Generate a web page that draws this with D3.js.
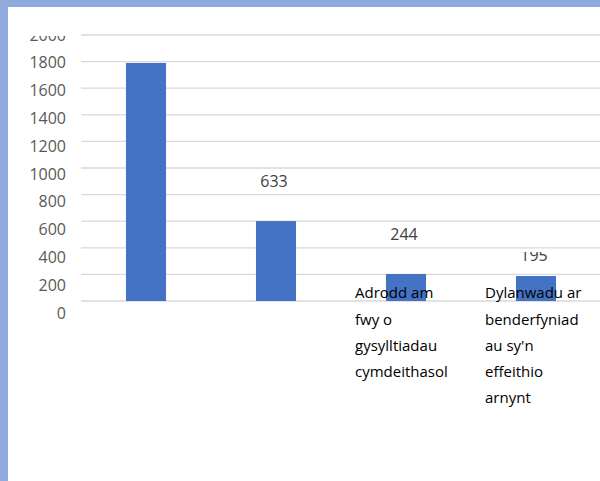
<!DOCTYPE html>
<html>
<head>
<meta charset="utf-8">
<script src="https://cdn.jsdelivr.net/npm/d3@7"></script>
<style>
  html, body { margin: 0; padding: 0; background: #fff; }
  svg { display: block; }
</style>
</head>
<body>
<div id="chart"></div>
<script>
// bar heights as drawn, and the numbers printed above them
const categories = ['c1', 'c2', 'c3', 'c4'];
const barValues = [1790, 601, 203, 188];
const labelValues = [1790, 633, 244, 195];
const categoryLines = [
  [],
  [],
  ['Adrodd am', 'fwy o', 'gysylltiadau', 'cymdeithasol'],
  ['Dylanwadu ar', 'benderfyniad', "au sy'n", 'effeithio', 'arnynt']
];
const yTicks = [0, 200, 400, 600, 800, 1000, 1200, 1400, 1600, 1800, 2000];

const width = 600, height = 481;
const svg = d3.select('#chart').append('svg')
  .attr('width', width)
  .attr('height', height);

// frame
svg.append('rect').attr('x', 0).attr('y', 0).attr('width', width).attr('height', 7).attr('fill', '#8FAADC');
svg.append('rect').attr('x', 0).attr('y', 0).attr('width', 8).attr('height', height).attr('fill', '#8FAADC');

const defs = svg.append('defs');
defs.append('clipPath').attr('id', 'plotClip')
  .append('rect').attr('x', -200).attr('y', 36).attr('width', 1000).attr('height', height);

const y = d3.scaleLinear().domain([0, 2000]).range([301, 35]);
const yLab = d3.scaleLinear().domain([0, 2000]).range([313, 35]);
const x = d3.scaleBand().domain(categories).range([81, 601])
  .paddingInner(0.692).paddingOuter(0.346);

// gridlines
svg.append('g').selectAll('line')
  .data(yTicks)
  .enter()
  .append('line')
  .attr('x1', 81).attr('x2', width)
  .attr('y1', d => y(d)).attr('y2', d => y(d))
  .attr('stroke', '#D9D9D9')
  .attr('stroke-width', 1.3);

// y labels
const axis = svg.append('g')
  .attr('transform', 'translate(66,0)')
  .attr('clip-path', 'url(#plotClip)')
  .call(d3.axisLeft(yLab).tickValues(yTicks).tickSize(0).tickPadding(0).tickFormat(d3.format('d')));
axis.select('.domain').remove();
axis.selectAll('text')
  .attr('font-family', '"Open Sans", sans-serif')
  .attr('font-size', 16)
  .attr('fill', '#595959');

// bars
svg.append('g').selectAll('rect')
  .data(categories)
  .enter()
  .append('rect')
  .attr('x', d => x(d))
  .attr('y', (d, i) => y(barValues[i]))
  .attr('width', x.bandwidth())
  .attr('height', (d, i) => y(0) - y(barValues[i]))
  .attr('fill', '#4472C4');

// data labels
labelValues.forEach((v, i) => {
  const ly = y(barValues[i]) - (i === 3 ? 21 : 40);
  let clip = 'url(#plotClip)';
  if (i === 3) {
    defs.append('clipPath').attr('id', 'lab3Clip')
      .append('rect').attr('x', 0).attr('y', ly - 3).attr('width', width).attr('height', 40);
    clip = 'url(#lab3Clip)';
  }
  svg.append('text')
    .attr('clip-path', clip)
    .attr('x', x(categories[i]) + x.bandwidth() / 2 - 2)
    .attr('y', ly)
    .attr('dy', '0.35em')
    .attr('text-anchor', 'middle')
    .attr('font-family', '"Open Sans", sans-serif')
    .attr('font-size', 16)
    .attr('fill', '#404040')
    .text(v);
});

// category labels
categoryLines.forEach((lines, i) => {
  const t = svg.append('text')
    .attr('font-family', '"Open Sans", sans-serif')
    .attr('font-size', 15)
    .attr('fill', '#000');
  lines.forEach((ln, j) => {
    t.append('tspan')
      .attr('x', x(categories[i]) + x.bandwidth() / 2 - 51)
      .attr('y', 293 + j * 26.3)
      .attr('dy', '0.35em')
      .text(ln);
  });
});
</script>
</body>
</html>
